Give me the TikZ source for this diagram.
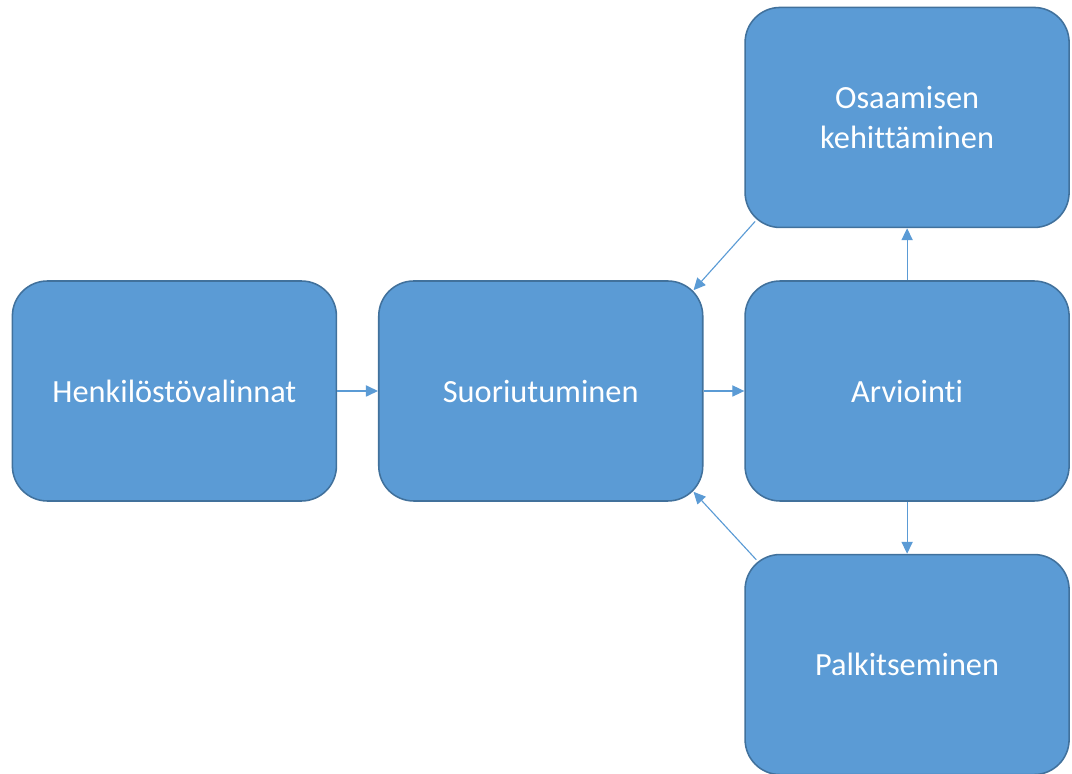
\documentclass[tikz,border=0pt]{standalone}
\usepackage{fontspec}
\setmainfont[Ligatures=NoCommon]{Carlito}
\usetikzlibrary{arrows.meta,positioning,calc}

\definecolor{boxfill}{HTML}{5B9BD5}
\definecolor{boxline}{HTML}{41719C}

\tikzset{
  phase/.style={draw=boxline,fill=boxfill,line width=1.1pt,rounded corners=0.875cm,
    minimum width=8.1cm,minimum height=5.5cm,text=white,align=center,
    font=\fontsize{23}{28}\selectfont},
  link/.style={draw=boxfill,line width=0.8pt,-{Triangle[length=3mm,width=2.8mm]}}
}

\begin{document}
\begin{tikzpicture}[node distance=1.02cm]

    \useasboundingbox (-4.36,-9.575) rectangle (22.44,9.775);

    \node[phase] (henk) at (0,0) {Henkilöstövalinnat};
    \node[phase] (suor) [right=of henk] {Suoriutuminen};
    \node[phase] (arv) [right=of suor] {Arviointi};
    \node[phase] (osa) [above=1.3cm of arv] {Osaamisen\\kehittäminen};
    \node[phase] (palk) [below=1.3cm of arv] {Palkitseminen};

    \path[link] (henk) -- (suor);
    \path[link] (suor) -- (arv);
    \path[link] (arv) -- (osa);
    \path[link] (arv) -- (palk);
    \path[link] ($(osa.south west)+(0.27,0.17)$) -- ($(suor.north east)+(-0.25,-0.25)$);
    \path[link] ($(palk.north west)+(0.3,-0.15)$) -- ($(suor.south east)+(-0.25,0.25)$);

\end{tikzpicture}
\end{document}
